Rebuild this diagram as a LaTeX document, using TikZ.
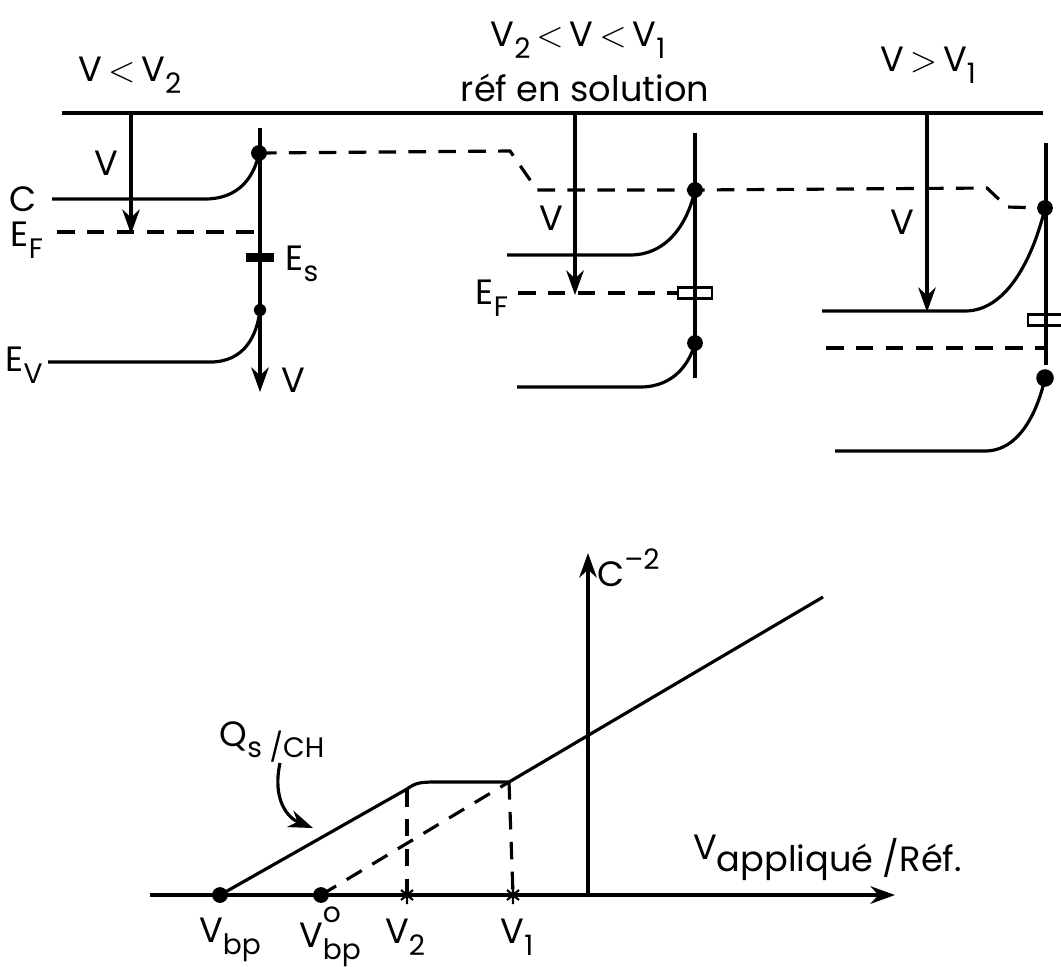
\documentclass[tikz,border=0pt]{standalone}
\usepackage{fontspec}
\setmainfont{Poppins}
\usetikzlibrary{arrows.meta}
\newcommand\lsub[1]{\raisebox{-0.6ex}{\fontsize{8}{9}\selectfont#1}}
\newcommand\lsup[1]{\raisebox{1.3ex}{\fontsize{8}{9}\selectfont#1}}
\newcommand\lless{\,$<$\,}
\newcommand\lmore{\,$>$\,}

\begin{document}
\begin{tikzpicture}[x=0.01cm,y=-0.01cm,line width=0.9pt,
  lbl/.style={inner sep=1pt,font=\fontsize{10}{12}\selectfont},
  dashln/.style={dash pattern=on 5pt off 3.5pt},
  arr/.style={-{Stealth[length=7pt,width=5pt]}},
  sdot/.style={circle,fill,inner sep=0pt,minimum size=4.5pt},
  ssbox/.style={draw,line width=0.8pt,minimum width=0.34cm,minimum height=0.11cm,inner sep=0pt}]
\useasboundingbox (0,0) rectangle (1061,966);

% reference level and titles
\coordinate (top0) at (62,113);
\coordinate (top1) at (1043,113);
\draw (top0) -- (top1);
\node[lbl] (t1) at (130,75) {V\lless V\lsub{2}};
\node[lbl] (t2) at (578,40) {V\lsub{2}\lless V\lless V\lsub{1}};
\node[lbl] (t2b) at (585,88) {réf en solution};
\node[lbl] (t3) at (928,65) {V\lmore V\lsub{1}};

% V < V2
\coordinate (a1) at (131,113);
\coordinate (a1e) at (131,234);
\draw[arr] (a1) -- (a1e);
\node[lbl] (v1) at (106,163) {V};
\coordinate (w1t) at (260,128);
\coordinate (w1b) at (260,392);
\draw[arr] (w1t) -- (w1b);
\node[lbl] (vw1) at (293,380) {V};
\node[sdot] (cs1) at (259,153) {};
\node[sdot,minimum size=3.5pt] (vs1) at (260,310) {};
\coordinate (c1) at (52,199);
\draw (c1) -- (205,199) .. controls (238,199) and (254,178) .. (cs1.center);
\node[lbl] (lc1) at (23,199) {C};
\coordinate (f1) at (57,232);
\coordinate (f1e) at (260,232);
\draw[dashln] (f1) -- (f1e);
\node[lbl] (lf1) at (27,240) {E\lsub{F}};
\node[fill,minimum width=0.28cm,minimum height=0.09cm,inner sep=0pt] (es1) at (260,257) {};
\node[lbl] (les1) at (302,264) {E\lsub{s}};
\coordinate (ev1) at (48,362);
\draw (ev1) -- (210,362) .. controls (245,362) and (257,335) .. (vs1.center);
\node[lbl] (lv1) at (24,365) {E\lsub{V}};

% V2 < V < V1
\coordinate (a2) at (575,113);
\coordinate (a2e) at (575,295);
\draw[arr] (a2) -- (a2e);
\node[lbl] (v2) at (551,218) {V};
\coordinate (w2t) at (695,133);
\coordinate (w2b) at (695,378);
\draw (w2t) -- (w2b);
\node[sdot] (cs2) at (695,190) {};
\node[sdot] (vs2) at (695,343) {};
\coordinate (c2) at (507,255);
\draw (c2) -- (630,255) .. controls (668,255) and (688,222) .. (cs2.center);
\node[ssbox] (es2) at (695,293) {};
\coordinate (f2) at (518,293);
\draw[dashln] (f2) -- (es2.west);
\node[lbl] (lf2) at (492,298) {E\lsub{F}};
\coordinate (ev2) at (517,387);
\draw (ev2) -- (640,387) .. controls (675,387) and (690,362) .. (vs2.center);

% V > V1
\coordinate (a3) at (927,113);
\coordinate (a3e) at (927,312);
\draw[arr] (a3) -- (a3e);
\node[lbl] (v3) at (902,222) {V};
\coordinate (w3t) at (1046,143);
\coordinate (w3b) at (1046,365);
\draw (w3t) -- (w3b);
\node[sdot] (cs3) at (1045,208) {};
\node[sdot,minimum size=5pt] (vs3) at (1045,378) {};
\coordinate (c3) at (822,311);
\draw (c3) -- (965,311) .. controls (1010,311) and (1035,250) .. (cs3.center);
\node[ssbox,minimum width=0.36cm] (es3) at (1046,320) {};
\coordinate (f3) at (826,348);
\coordinate (f3e) at (1044,348);
\draw[dashln] (f3) -- (f3e);
\coordinate (ev3) at (835,451);
\draw (ev3) -- (985,451) .. controls (1020,451) and (1038,410) .. (vs3.center);

% surface level across the three cases
\draw[dashln] (cs1.center) -- (510,151) -- (537,190) -- (cs2.center) -- (987,188) -- (1007,207) -- (cs3.center);

% C^-2 against applied potential
\coordinate (xo) at (150,895);
\coordinate (xe) at (895,895);
\draw[arr] (xo) -- (xe);
\coordinate (yo) at (588,895);
\coordinate (ye) at (588,553);
\draw[arr] (yo) -- (ye);
\node[lbl,anchor=west] (cy) at (592,568) {C\raisebox{0.9ex}{\fontsize{8}{9}\selectfont–2}};
\node[lbl,anchor=west] (vx) at (688,858) {V\raisebox{-0.6ex}{appliqué /Réf.}};
\node[sdot] (vbp) at (220,895) {};
\node[sdot] (vbp0) at (321,895) {};
\coordinate (k2) at (407,789);
\coordinate (k1) at (509,782);
\coordinate (lend) at (823,597);
\draw (vbp.center) -- (k2) .. controls (415,783) and (420,782) .. (435,782) -- (k1) -- (lend);
\draw[dashln] (vbp0.center) -- (k1);
\coordinate (x2) at (407,895);
\coordinate (x1) at (513,895);
\draw[dashln] (k2) -- (x2);
\draw[dashln] (k1) -- (x1);
\foreach \p in {x2,x1}
  \draw[line width=0.6pt] ([yshift=-0.09cm]\p) -- ([yshift=0.09cm]\p)
    ([shift={(-0.06cm,-0.05cm)}]\p) -- ([shift={(0.06cm,0.05cm)}]\p)
    ([shift={(-0.06cm,0.05cm)}]\p) -- ([shift={(0.06cm,-0.05cm)}]\p);
\node[lbl] (lbp) at (230,940) {V\lsub{bp}};
\node[lbl] (lbp0) at (330,937) {V\rlap{\lsup{o}}\lsub{bp}};
\node[lbl] (lx2) at (405,937) {V\lsub{2}};
\node[lbl] (lx1) at (517,937) {V\lsub{1}};
\node[lbl] (qs) at (272,742) {Q\lsub{s /CH}};
\coordinate (qbase) at (280,763);
\coordinate (qtip) at (313,828);
\draw[arr] (qbase) .. controls (272,800) and (288,818) .. (qtip);
\end{tikzpicture}
\end{document}
